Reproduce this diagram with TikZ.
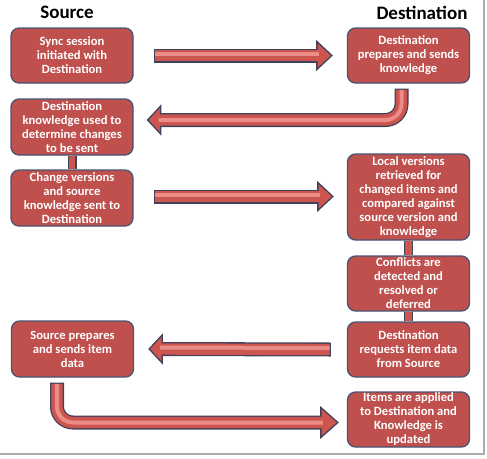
\documentclass[tikz,border=0pt]{standalone}
\usepackage{fontspec}
\setmainfont{Carlito}
\usetikzlibrary{calc}
\definecolor{boxred}{RGB}{192,80,77}
\definecolor{boxline}{RGB}{72,84,115}
\definecolor{arrred}{RGB}{205,85,80}
\definecolor{arrlight}{RGB}{236,140,135}
\definecolor{arrline}{RGB}{65,65,90}
\begin{document}
\begin{tikzpicture}[x=1pt,y=-1pt,
  box/.style={draw=boxline,line width=1.3pt,fill=boxred,rounded corners=8pt,text=white,
    font=\fontsize{12.6}{14}\selectfont\bfseries,align=center,minimum width=122pt,inner sep=0pt},
  title/.style={font=\fontsize{19}{22}\selectfont\bfseries},
  arrout/.style={draw=arrline,line width=14pt,rounded corners=16pt},
  arrin/.style={draw=arrred,line width=11.4pt,rounded corners=16pt},
  arrhi/.style={draw=arrlight,line width=4pt,rounded corners=16pt},
  arrtip/.style={fill=arrred,draw=arrline,line width=1.3pt,line join=miter},
  barout/.style={draw=arrline,line width=9pt},
  barin/.style={draw=arrred,line width=6.4pt}]
\useasboundingbox (0,0) rectangle (487,458);
% frame shadow
\draw[gray!65,line width=1.6pt] (484,0) -- (484,454) -- (0,454);

\node[title] (src) at (67,12) {Source};
\node[title] (dst) at (422,12.5) {Destination};

\node[box,minimum height=55pt] (s1) at (72,55.5) {Sync session\\initiated with\\Destination};
\node[box,minimum height=55pt] (d1) at (408.5,55.5) {Destination\\prepares and sends\\knowledge};
\node[box,minimum height=56pt] (s2) at (72,127) {Destination\\knowledge used to\\determine changes\\to be sent};
\node[box,minimum height=56pt] (s3) at (72,198) {Change versions\\and source\\knowledge sent to\\Destination};
\node[box,minimum height=86pt] (d2) at (408.5,197) {Local versions\\retrieved for\\changed items and\\compared against\\source version and\\knowledge};
\node[box,minimum height=55pt] (d3) at (408.5,283.5) {Conflicts are\\detected and\\resolved or\\deferred};
\node[box,minimum height=55pt] (d4) at (408.5,349.5) {Destination\\requests item data\\from Source};
\node[box,minimum height=56pt] (s4) at (72.5,349) {Source prepares\\and sends item\\data};
\node[box,minimum height=55pt] (d5) at (408.5,419.5) {Items are applied\\to Destination and\\Knowledge is\\updated};

% short bars between stacked boxes
\draw[barout] (s2.south) -- (s3.north);
\draw[barin] ($(s2.south)+(0,0.8)$) -- ($(s3.north)+(0,-0.8)$);
\draw[barout] (d2.south) -- (d3.north);
\draw[barin] ($(d2.south)+(0,0.8)$) -- ($(d3.north)+(0,-0.8)$);
\draw[barout] (d3.south) -- (d4.north);
\draw[barin] ($(d3.south)+(0,0.8)$) -- ($(d4.north)+(0,-0.8)$);

% A1: s1 -> d1
\coordinate (a1s) at ($(s1.east)+(20,0)$);
\coordinate (a1t) at ($(d1.west)+(-15,0)$);
\coordinate (a1b) at ($(a1t)+(-15,0)$);
\draw[arrtip] (a1t) -- ($(a1b)+(0,-14)$) -- ($(a1b)+(0,14)$) -- cycle;
\draw[arrout] (a1s) -- (a1b);
\draw[arrin] ($(a1s)+(1.3,0)$) -- ($(a1b)+(2,0)$);
\draw[arrhi] ($(a1s)+(1.3,-1.5)$) -- ($(a1b)+(2,-1.5)$);

% A2: d1 -> s2 (bent)
\coordinate (a2s) at ($(d1.south)+(-7,5)$);
\coordinate (a2t) at ($(s2.east)+(14,-7)$);
\coordinate (a2b) at ($(a2t)+(13,0)$);
\draw[arrtip] (a2t) -- ($(a2b)+(0,-14)$) -- ($(a2b)+(0,14)$) -- cycle;
\draw[arrout] (a2s) |- (a2b);
\draw[arrin] ($(a2s)+(0,1.3)$) |- ($(a2b)+(-2,0)$);
\draw[arrhi] ($(a2s)+(0,1.3)$) |- ($(a2b)+(-2,0)$);

% A3: s3 -> d2
\coordinate (a3s) at ($(s3.east)+(20,-1.5)$);
\coordinate (a3t) at ($(d2.west)+(-14,-0.5)$);
\coordinate (a3b) at ($(a3t)+(-15,0)$);
\draw[arrtip] (a3t) -- ($(a3b)+(0,-14)$) -- ($(a3b)+(0,14)$) -- cycle;
\draw[arrout] (a3s) -- (a3b);
\draw[arrin] ($(a3s)+(1.3,0)$) -- ($(a3b)+(2,0)$);
\draw[arrhi] ($(a3s)+(1.3,-1.5)$) -- ($(a3b)+(2,-1.5)$);

% A4: d4 -> s4
\coordinate (a4s) at ($(d4.west)+(-16,0)$);
\coordinate (a4t) at ($(s4.east)+(15,0)$);
\coordinate (a4b) at ($(a4t)+(13,0)$);
\draw[arrtip] (a4t) -- ($(a4b)+(0,-14)$) -- ($(a4b)+(0,14)$) -- cycle;
\draw[arrout] (a4s) -- (a4b);
\draw[arrin] ($(a4s)+(-1.3,0)$) -- ($(a4b)+(-2,0)$);
\draw[arrhi] ($(a4s)+(-1.3,-1.5)$) -- ($(a4b)+(-2,-1.5)$);

% A5: s4 -> d5 (bent)
\coordinate (a5s) at ($(s4.south)+(-15.5,5)$);
\coordinate (a5t) at ($(d5.west)+(-9,3)$);
\coordinate (a5b) at ($(a5t)+(-17,0)$);
\draw[arrtip] (a5t) -- ($(a5b)+(0,-15)$) -- ($(a5b)+(0,15)$) -- cycle;
\draw[arrout] (a5s) |- (a5b);
\draw[arrin] ($(a5s)+(0,1.3)$) |- ($(a5b)+(2,0)$);
\draw[arrhi] ($(a5s)+(0,1.3)$) |- ($(a5b)+(2,0)$);
\end{tikzpicture}
\end{document}
